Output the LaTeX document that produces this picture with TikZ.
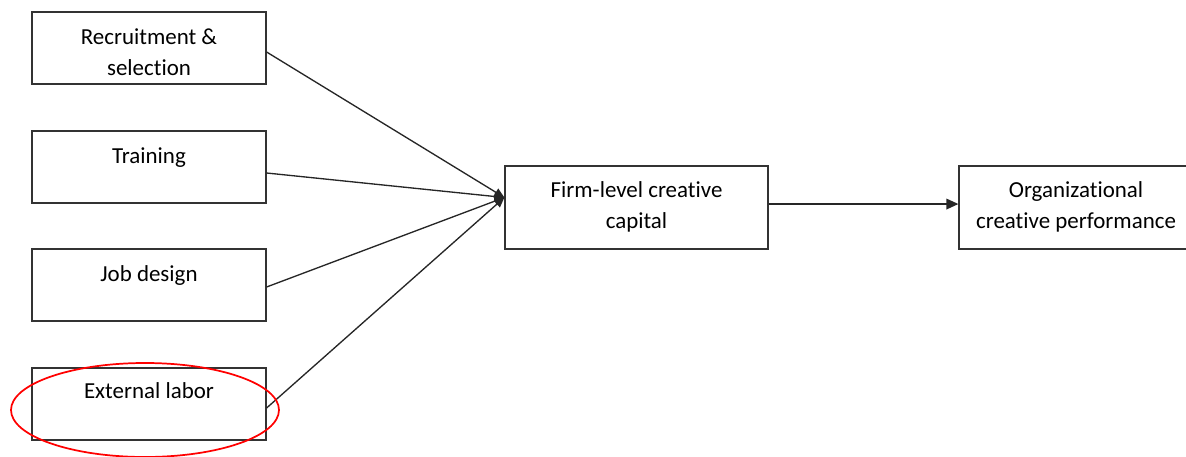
\documentclass[tikz,border=0pt]{standalone}
\usepackage{fontspec}
\setmainfont[Ligatures={NoCommon}]{Carlito}
\usetikzlibrary{arrows.meta}
\tikzset{
  practice/.style={draw=black!80,line width=0.9pt,minimum width=175.5pt,minimum height=54pt,inner sep=0pt},
  boxtext/.style={anchor=north,inner sep=0pt,align=center,font=\fontsize{17.2}{23.5}\selectfont},
  link/.style={draw=black!85,line width=1pt,-{Triangle[length=7.5pt,width=6.5pt]}},
}
\begin{document}
\begin{tikzpicture}[x=0.75pt,y=-0.75pt]
\useasboundingbox (0,0) rectangle (1186,457);
\node[practice] (rec) at (149,48) {};
\node[practice] (trn) at (149,167) {};
\node[practice] (job) at (149,285) {};
\node[practice] (ext) at (149,404) {};
\node[practice,minimum width=197.25pt,minimum height=62.25pt] (fcc) at (636.5,207.5) {};
\node[practice,minimum height=62.25pt] (ocp) at (1076,207.5) {};
\node[boxtext] (rec-t) at ([yshift=-12.5pt]rec.north) {Recruitment \&\\selection};
\node[boxtext] (trn-t) at ([yshift=-12.5pt]trn.north) {Training};
\node[boxtext] (job-t) at ([yshift=-12.5pt]job.north) {Job design};
\node[boxtext] (ext-t) at ([yshift=-11pt]ext.north) {External labor};
\node[boxtext] (fcc-t) at ([yshift=-12pt]fcc.north) {Firm-level creative\\capital};
\node[boxtext] (ocp-t) at ([yshift=-12pt]ocp.north) {Organizational\\creative performance};
\coordinate (hub) at ([yshift=7.5pt]fcc.west);
\draw[link] ([yshift=-3pt]rec.east) -- (hub);
\draw[link] ([yshift=-4.5pt]trn.east) -- (hub);
\draw[link] ([yshift=-1.5pt]job.east) -- (hub);
\draw[link] ([yshift=-3pt]ext.east) -- (hub);
\draw[link,-{Triangle[length=9pt,width=8pt]}] ([yshift=2.6pt]fcc.east) -- ([yshift=2.6pt]ocp.west);
\draw[red,line width=1.3pt] (145,410) ellipse [x radius=100.5pt,y radius=35.25pt];
\end{tikzpicture}
\end{document}
